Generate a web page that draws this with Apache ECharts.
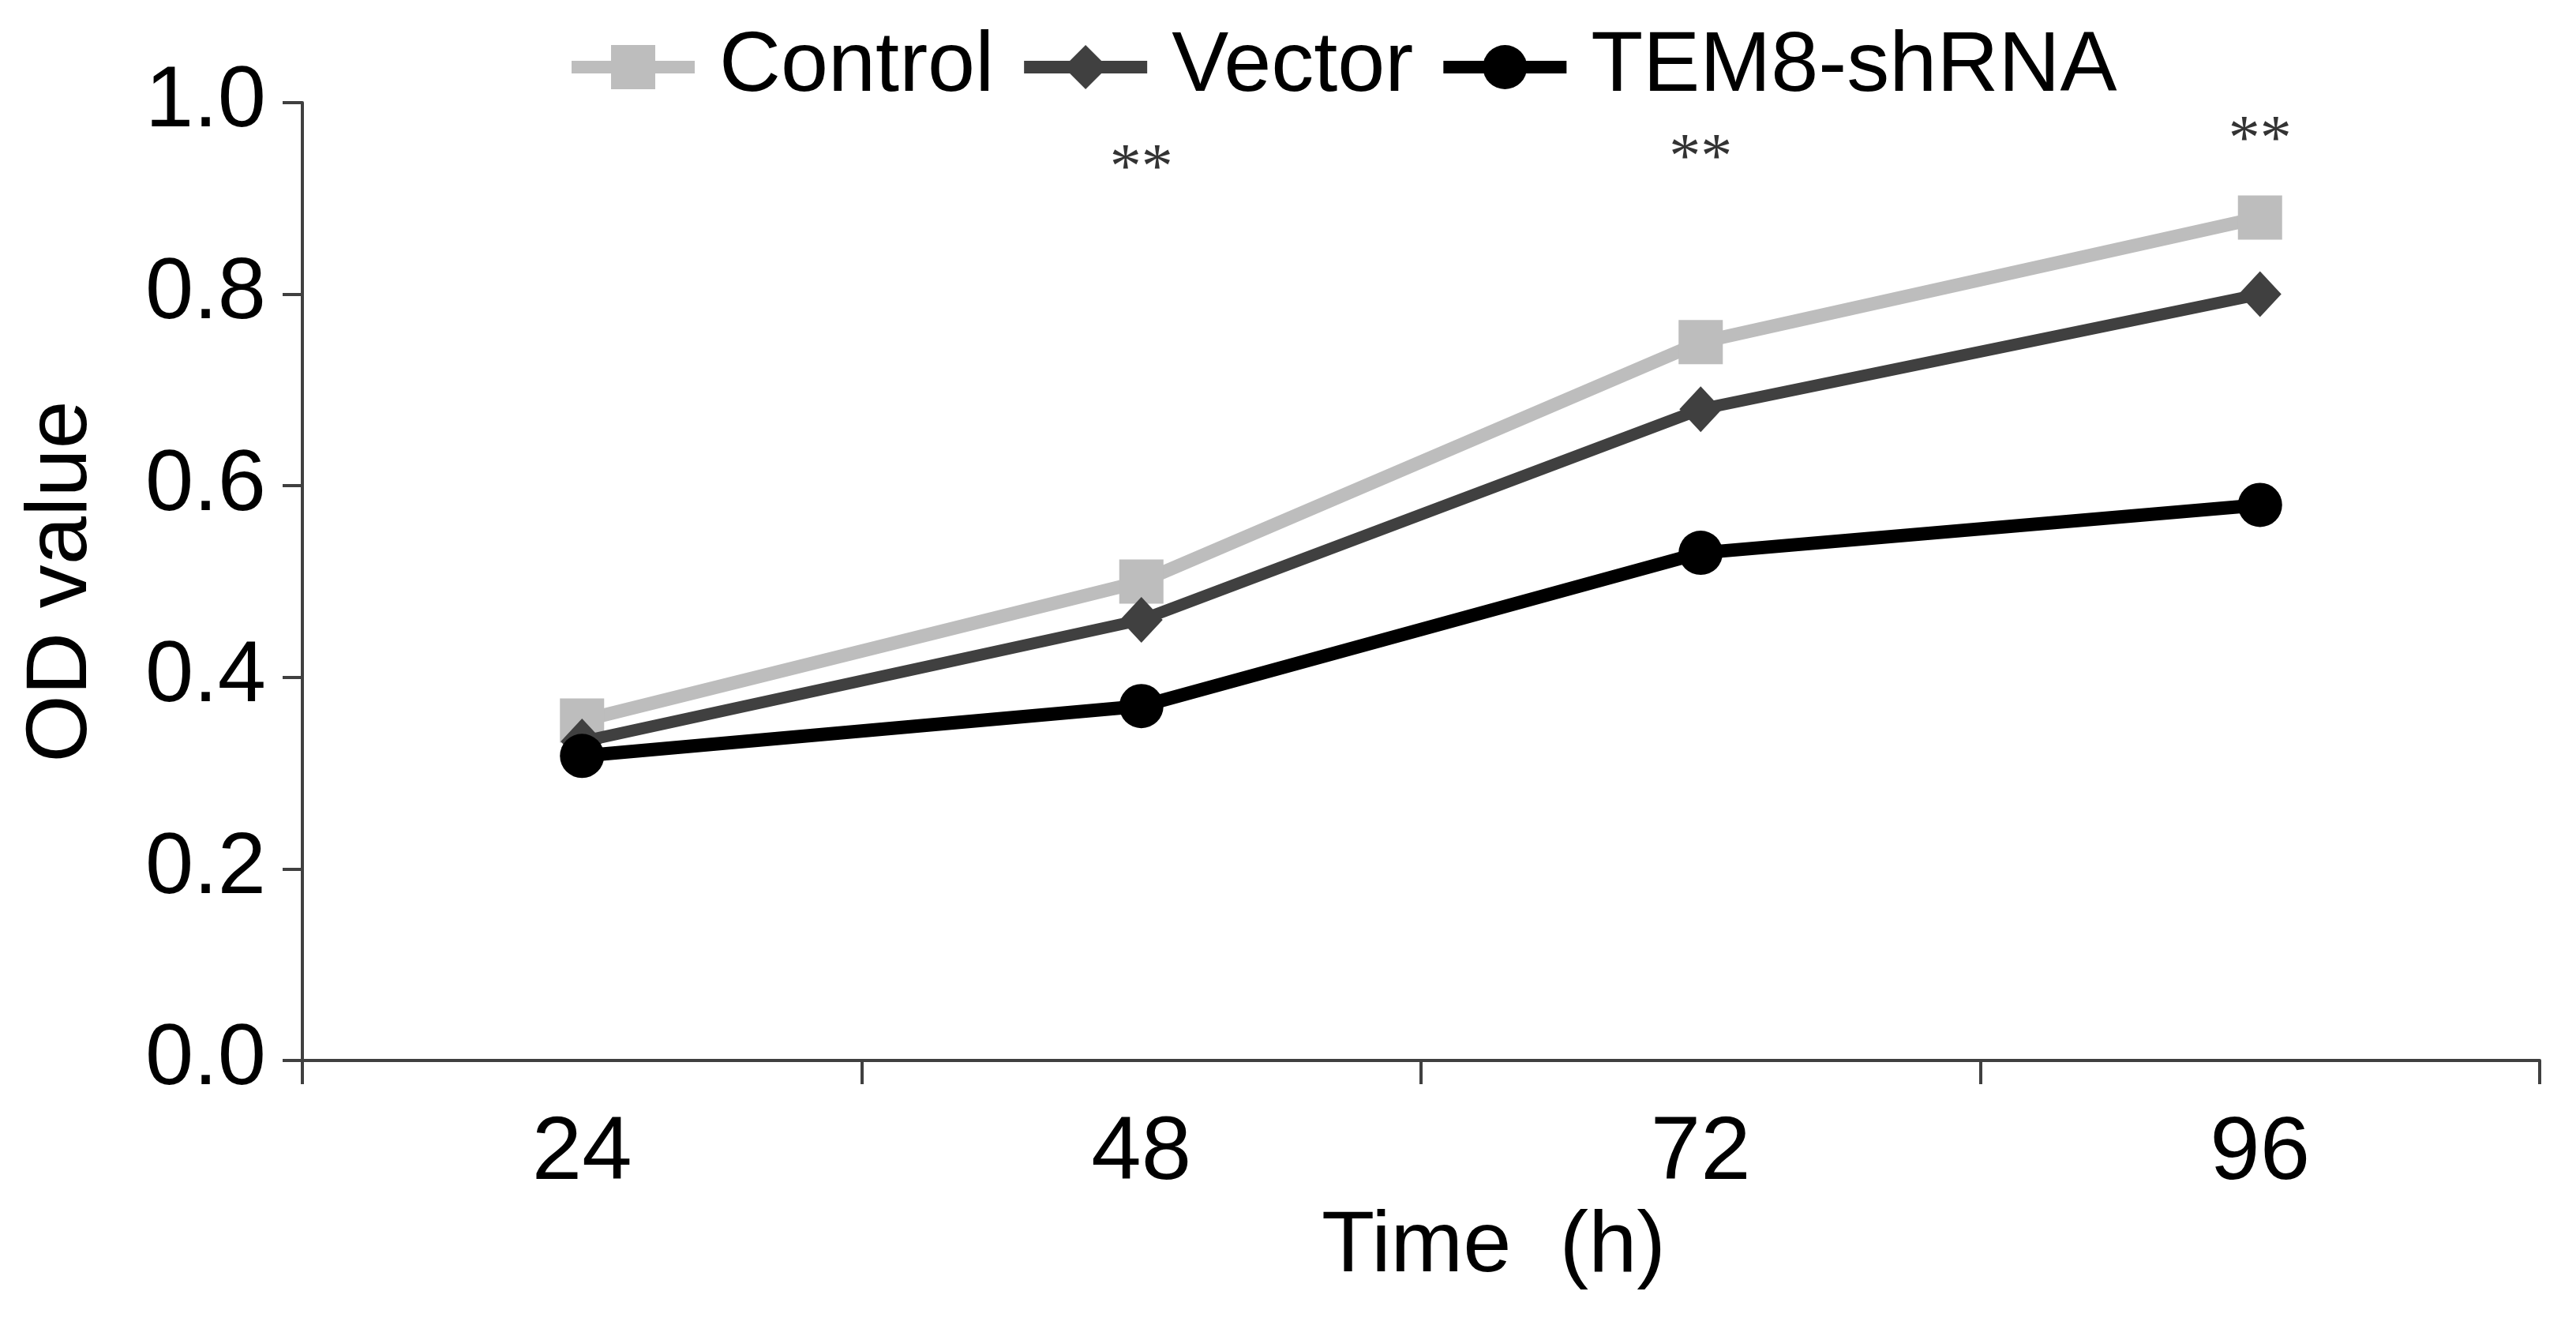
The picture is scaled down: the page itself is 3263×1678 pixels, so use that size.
<!DOCTYPE html>
<html>
<head>
<meta charset="utf-8">
<script src="https://cdn.jsdelivr.net/npm/echarts@6/dist/echarts.min.js"></script>
<style>
html,body{margin:0;padding:0;background:#fff;}
#chart{width:3263px;height:1678px;}
</style>
</head>
<body>
<div id="chart"></div>
<script>
// ---- data ----
const categories = ['24', '48', '72', '96'];
const seriesNames = ['Control', 'Vector', 'TEM8-shRNA'];
const controlValues = [0.355, 0.50, 0.75, 0.88];
const vectorValues = [0.333, 0.46, 0.68, 0.80];
const shRNAValues = [0.318, 0.37, 0.53, 0.58];
const sigCategories = ['48', '72', '96'];
const sigY = [0.929, 0.94, 0.959];
const sigLabels = ['**', '**', '**'];
const yTicks = { min: 0, max: 1.0, interval: 0.2 };

const font = "'Liberation Sans', Arial, sans-serif";
const axisColor = '#404040';

const chart = echarts.init(document.getElementById('chart'), null, { renderer: 'canvas' });

const option = {
  backgroundColor: '#ffffff',
  animation: false,
  textStyle: { fontFamily: font, color: '#000' },
  legend: {
    data: seriesNames,
    left: 711,
    top: 26,
    itemWidth: 156,
    itemHeight: 70,
    itemGap: 30,
    textStyle: { fontFamily: font, fontSize: 108, color: '#000', padding: [0, 0, 0, 26] },
    lineStyle: { width: 16 }
  },
  grid: {
    left: 383,
    right: 46,
    top: 130,
    bottom: 335,
    containLabel: false,
    outerBoundsMode: 'none'
  },
  xAxis: {
    type: 'category',
    data: categories,
    boundaryGap: true,
    name: 'Time  (h)',
    nameLocation: 'middle',
    nameGap: 182,
    nameTextStyle: { fontFamily: font, fontSize: 110, color: '#000', padding: [0, 0, 0, 184] },
    axisLine: { show: true, lineStyle: { color: axisColor, width: 4 } },
    axisTick: { show: true, alignWithLabel: false, inside: false, length: 30, lineStyle: { color: axisColor, width: 4 } },
    axisLabel: { fontFamily: font, fontSize: 114, color: '#000', margin: 62 },
    splitLine: { show: false }
  },
  yAxis: {
    type: 'value',
    min: yTicks.min,
    max: yTicks.max,
    interval: yTicks.interval,
    name: 'OD value',
    nameLocation: 'middle',
    nameGap: 249,
    nameTextStyle: { fontFamily: font, fontSize: 110, color: '#000' },
    axisLine: { show: true, lineStyle: { color: axisColor, width: 4 } },
    axisTick: { show: true, inside: false, length: 25, lineStyle: { color: axisColor, width: 4 } },
    axisLabel: {
      fontFamily: font,
      fontSize: 110, color: '#000', margin: 46,
      formatter: v => v.toFixed(1)
    },
    splitLine: { show: false }
  },
  series: [
    {
      name: seriesNames[0],
      type: 'line',
      data: controlValues,
      symbol: 'rect',
      symbolSize: 56,
      lineStyle: { color: '#bdbdbd', width: 17 },
      itemStyle: { color: '#bdbdbd' },
      z: 2
    },
    {
      name: seriesNames[1],
      type: 'line',
      data: vectorValues,
      symbol: 'diamond',
      symbolSize: [54, 58],
      lineStyle: { color: '#404040', width: 15 },
      itemStyle: { color: '#404040' },
      z: 3
    },
    {
      name: seriesNames[2],
      type: 'line',
      data: shRNAValues,
      symbol: 'circle',
      symbolSize: 56,
      lineStyle: { color: '#000000', width: 17 },
      itemStyle: { color: '#000000' },
      z: 4
    },
    {
      name: 'significance',
      type: 'scatter',
      data: sigCategories.map((c, i) => ({ value: [c, sigY[i]], label: { formatter: sigLabels[i] } })),
      symbolSize: 1,
      itemStyle: { color: 'rgba(0,0,0,0)' },
      label: {
        show: true,
        position: 'inside',
        fontFamily: "'Liberation Serif', 'Times New Roman', serif",
        fontSize: 80,
        color: '#000'
      },
      silent: true,
      z: 5
    }
  ]
};

chart.setOption(option);
</script>
</body>
</html>
